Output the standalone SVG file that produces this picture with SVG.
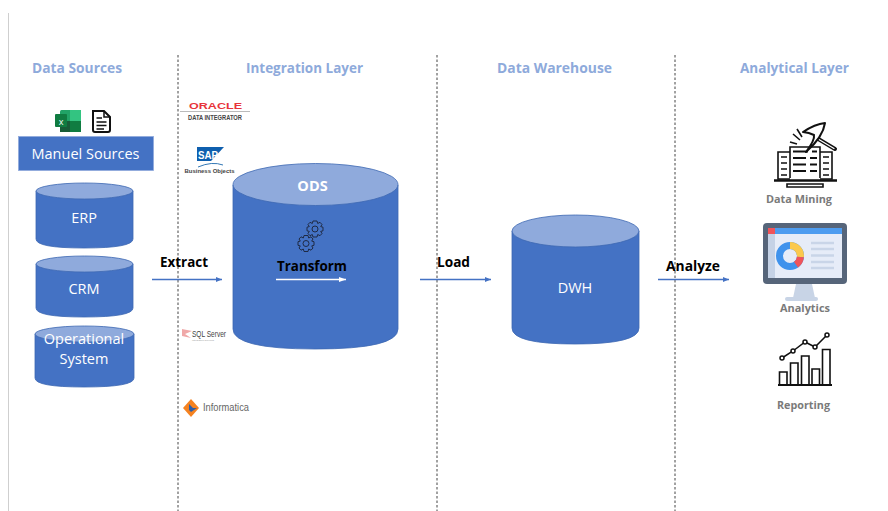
<svg xmlns="http://www.w3.org/2000/svg" width="888" height="511" viewBox="0 0 888 511">
<defs>
<marker id="arrow" markerWidth="6" markerHeight="6" refX="6" refY="2.5" orient="auto" markerUnits="userSpaceOnUse"><path d="M0 0L6 2.5L0 5Z" fill="#4472c4"/></marker>
<marker id="arrowW" markerWidth="7" markerHeight="6" refX="7" refY="2.5" orient="auto" markerUnits="userSpaceOnUse"><path d="M0 0L7 2.5L0 5Z" fill="#fff"/></marker>
<g id="gear"><circle r="3" fill="none" stroke="#1f2a44" stroke-width="1"/><path d="M-2 -8L2 -8L2.700 -5.500L5 -6.700L7 -4.500L5.700 -2.400L8 -1.800L8 1.800L5.700 2.400L7 4.500L5 6.700L2.700 5.500L2 8L-2 8L-2.700 5.500L-5 6.700L-7 4.500L-5.700 2.400L-8 1.800L-8 -1.800L-5.700 -2.400L-7 -4.500L-5 -6.700L-2.700 -5.500Z" fill="none" stroke="#1f2a44" stroke-width="1"/></g>
</defs>
<style>
text{font-family:"Open Sans","Liberation Sans",sans-serif}
.logo{font-family:"Liberation Sans",Arial,sans-serif}
.h{fill:#8eaadb;font-size:13.600px;font-weight:700}
.c{fill:#fff;font-size:14.500px;text-anchor:middle}
.b{fill:#000;font-size:13.500px;font-weight:700}
.l{fill:#7a7a7a;font-size:10.300px;font-weight:700}
.body{fill:#4472c4;stroke:#3d68b3;stroke-width:.8}
.top{fill:#8faadc;stroke:#3d68b3;stroke-width:.8}
.div{stroke:#444;stroke-width:1;stroke-dasharray:2.500 2;fill:none}
.ink{fill:none;stroke:#111;stroke-width:1.600}
.conn{stroke:#4472c4;stroke-width:1.300;fill:none;marker-end:url(#arrow)}
</style>
<rect width="888" height="511" fill="#fff"/>
<line x1="8.500" y1="13" x2="8.500" y2="511" stroke="#cfcfcf" stroke-width="1"/>
<g id="dividers">
<line class="div" x1="178" y1="55" x2="178" y2="511"/>
<line class="div" x1="437" y1="55" x2="437" y2="511"/>
<line class="div" x1="675" y1="55" x2="675" y2="511"/>
</g>
<g id="headers">
<text class="h" x="32" y="73" textLength="90" lengthAdjust="spacingAndGlyphs">Data Sources</text>
<text class="h" x="246" y="73" textLength="117" lengthAdjust="spacingAndGlyphs">Integration Layer</text>
<text class="h" x="497" y="73" textLength="115" lengthAdjust="spacingAndGlyphs">Data Warehouse</text>
<text class="h" x="740" y="73" textLength="109" lengthAdjust="spacingAndGlyphs">Analytical Layer</text>
</g>
<g id="excel-icon">
<rect x="60" y="110" width="21" height="22" rx="1.500" fill="#21a366"/>
<rect x="70" y="110" width="11" height="11" fill="#33c481"/>
<rect x="60" y="121" width="10" height="11" fill="#185c37"/>
<rect x="70" y="121" width="11" height="11" fill="#107c41"/>
<rect x="55" y="114" width="12" height="13" rx="1" fill="#107c41"/>
<text x="61" y="124.500" font-size="9" fill="#fff" text-anchor="middle">x</text>
</g>
<g id="doc-icon">
<path d="M93 111H104L110 117V130Q110 132 108 132H95Q93 132 93 130Z" fill="#fff" stroke="#111" stroke-width="2"/>
<path d="M104 111V117H110" fill="none" stroke="#111" stroke-width="1.500"/>
<path d="M96.500 118H102M96.500 122H106.500M96.500 125.500H106.500M96.500 129H104" stroke="#111" stroke-width="1.500"/>
</g>
<g id="manual-sources">
<rect x="18.500" y="136.500" width="135" height="34" fill="#4472c4" stroke="#8faadc" stroke-width=".8"/>
<text class="c" x="85.500" y="159">Manuel Sources</text>
</g>
<g id="erp">
<path class="body" d="M36 191V239Q36 248 84 248Q133 248 133 239V191Z"/>
<ellipse class="top" cx="84.500" cy="191" rx="48.500" ry="8"/>
<text class="c" x="84" y="223">ERP</text>
</g>
<g id="crm">
<path class="body" d="M36 264V308Q36 317 84 317Q133 317 133 308V264Z"/>
<ellipse class="top" cx="84.500" cy="264" rx="48.500" ry="8"/>
<text class="c" x="84" y="294">CRM</text>
</g>
<g id="operational-system">
<path class="body" d="M35 334V378Q35 387 84 387Q134 387 134 378V334Z"/>
<ellipse class="top" cx="84.500" cy="334" rx="49.500" ry="8"/>
<text class="c" x="84" y="344">Operational</text>
<text class="c" x="84" y="364">System</text>
</g>
<g id="ods">
<path class="body" d="M233 185V329Q233 349 315 349Q398 349 398 329V185Z"/>
<ellipse class="top" cx="315.500" cy="184.500" rx="82.500" ry="21"/>
<text x="312.500" y="191" fill="#fff" font-size="14.500" font-weight="700" text-anchor="middle">ODS</text>
<use href="#gear" transform="translate(315 229)"/>
<use href="#gear" transform="translate(306 243.500)"/>
<text class="b" x="277" y="271" textLength="70" lengthAdjust="spacingAndGlyphs">Transform</text>
<line x1="276" y1="279.500" x2="346" y2="279.500" stroke="#fff" stroke-width="1.300" marker-end="url(#arrowW)"/>
</g>
<g id="dwh">
<path class="body" d="M512 231V328Q512 344 575 344Q639 344 639 328V231Z"/>
<ellipse class="top" cx="575.500" cy="231" rx="63.500" ry="16"/>
<text class="c" x="575" y="293">DWH</text>
</g>
<g id="connectors">
<line class="conn" x1="152" y1="279.500" x2="222" y2="279.500"/>
<line class="conn" x1="420" y1="279.500" x2="491" y2="279.500"/>
<line class="conn" x1="658" y1="279.500" x2="729" y2="279.500"/>
</g>
<g id="connector-labels">
<text class="b" x="160" y="267" textLength="48" lengthAdjust="spacingAndGlyphs">Extract</text>
<text class="b" x="437" y="267" textLength="33" lengthAdjust="spacingAndGlyphs">Load</text>
<text class="b" x="666" y="271" textLength="54" lengthAdjust="spacingAndGlyphs">Analyze</text>
</g>
<g id="oracle-logo">
<text class="logo" x="189" y="108.500" font-size="9" font-weight="700" fill="#e8343a" textLength="53" lengthAdjust="spacingAndGlyphs">ORACLE</text>
<line x1="180" y1="111.500" x2="250" y2="111.500" stroke="#bbb" stroke-width="1"/>
<text class="logo" x="188" y="119.500" font-size="6.500" font-weight="700" fill="#444" textLength="54" lengthAdjust="spacingAndGlyphs">DATA INTEGRATOR</text>
</g>
<g id="sap-logo">
<path d="M197 147H224L211 161H197Z" fill="#0f5fae"/>
<text class="logo" x="198" y="158.500" font-size="11" font-weight="700" fill="#fff" textLength="20" lengthAdjust="spacingAndGlyphs">SAP</text>
<path d="M198 167Q212 161 223 165" fill="none" stroke="#3478b5" stroke-width="1"/>
<text class="logo" x="184.500" y="172.500" font-size="6" font-weight="700" fill="#444" textLength="50" lengthAdjust="spacingAndGlyphs">Business Objects</text>
</g>
<g id="sqlserver-logo">
<path d="M182 329L192 331L185 334L191 338L182 336Z" fill="#f0a8a8"/>
<text class="logo" x="192" y="337" font-size="9" fill="#444" textLength="34" lengthAdjust="spacingAndGlyphs">SQL Server</text>
<text class="logo" x="192" y="341" font-size="2.500" fill="#999">Integration Services</text>
</g>
<g id="informatica-logo">
<path d="M191 399L199 408L191 417L183 408Z" fill="#f58220"/>
<path d="M189 404L193 408H197L191 412L189 410Z" fill="#2e5ea8"/>
<text class="logo" x="203" y="411" font-size="10" fill="#666" textLength="46" lengthAdjust="spacingAndGlyphs">Informatica</text>
</g>
<g id="data-mining">
<path class="ink" d="M790 178V147H820V178" stroke-width="1.800"/>
<path d="M793 151.500H808M812 151.500H817M793 158H806M810 158H817M793 164.500H806M810 164.500H817M793 171H806M810 171H817" stroke="#111" stroke-width="1.800"/>
<path class="ink" d="M790 152H778V179H790M820 152H832V179H820" stroke-width="1.800"/>
<path d="M781 157H787M781 163H787M781 169H787M781 175H787M823 157H829M823 163H829M823 169H829M823 175H829" stroke="#111" stroke-width="1.500"/>
<path d="M774 180.500H837" stroke="#111" stroke-width="2.500"/>
<path class="ink" d="M787 184H823V187H787Z"/>
<path d="M815 137L835 149" stroke="#111" stroke-width="4" stroke-linecap="round"/>
<path d="M816 137.800L834 148.500" stroke="#fff" stroke-width="1.200" stroke-linecap="round"/>
<path d="M803 132Q815 124 825 123Q823 137 806 152Q815 140 814 135Q809 132.500 803 132Z" fill="#fff" stroke="#111" stroke-width="2" stroke-linejoin="round"/>
<path d="M790 142L797 144M793 134L800 140M797 129L802 137" class="ink" stroke-width="1.800"/>
<text class="l" x="766" y="203" textLength="66" lengthAdjust="spacingAndGlyphs">Data Mining</text>
</g>
<g id="analytics">
<rect x="763" y="223" width="84" height="61" rx="4" fill="#56657a"/>
<rect x="768" y="228" width="74" height="50" fill="#e6ecf8"/>
<rect x="768" y="228" width="7" height="50" fill="#c5d2e6"/>
<rect x="768" y="228" width="74" height="6" fill="#4d9cf0"/>
<rect x="768" y="228" width="7" height="6" fill="#f0545a"/>
<path d="M796 284H812L815 298H793Z" fill="#c8d4e6"/>
<rect x="785" y="297" width="33" height="4" rx="2" fill="#c8d4e6"/>
<circle cx="790" cy="256" r="10.500" fill="none" stroke="#3f92ec" stroke-width="7"/>
<path d="M790 245.500A10.500 10.500 0 0 1 800.400 257" fill="none" stroke="#fbc94d" stroke-width="7"/>
<path d="M800.400 257A10.500 10.500 0 0 1 796 264.700" fill="none" stroke="#f0545a" stroke-width="7"/>
<path d="M811 243H834M811 249H834M811 255.500H834M811 262H834M811 268H834" stroke="#c9d5e8" stroke-width="2.500"/>
<text class="l" x="780" y="312" textLength="50" lengthAdjust="spacingAndGlyphs">Analytics</text>
</g>
<g id="reporting">
<path class="ink" d="M779.500 384V372H787V384M790.500 384V363H798V384M801.500 384V356H809V384M812 384V369H819.500V384M822.500 384V349.500H830V384" stroke-width="1.800"/>
<path d="M778 385H832" stroke="#111" stroke-width="2"/>
<path d="M782 358L793 351L805 342L815 347L827 335" fill="none" stroke="#111" stroke-width="1.500"/>
<g fill="#fff" stroke="#111" stroke-width="1.500"><circle cx="782" cy="358" r="2"/><circle cx="793" cy="351" r="2"/><circle cx="805" cy="342" r="2"/><circle cx="815" cy="347" r="2"/><circle cx="827" cy="335" r="2"/></g>
<text class="l" x="777" y="408.500" textLength="53" lengthAdjust="spacingAndGlyphs">Reporting</text>
</g>
</svg>
